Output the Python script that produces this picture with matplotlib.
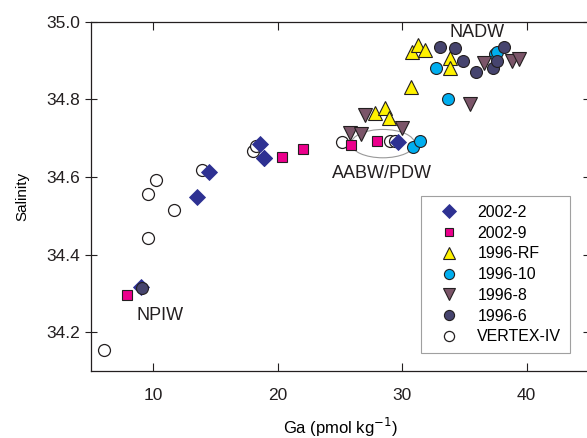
import matplotlib.pyplot as plt
from matplotlib.patches import Ellipse

plt.rcParams['font.family'] = ['Liberation Sans', 'DejaVu Sans']

# Ga (pmol/kg) vs salinity
ga_2002_2 = [9.0, 13.5, 14.5, 18.6, 18.9, 18.9, 29.7]
sal_2002_2 = [34.317, 34.548, 34.613, 34.686, 34.649, 34.649, 34.689]

ga_2002_9 = [7.9, 20.35, 22.05, 25.9, 27.95]
sal_2002_9 = [34.296, 34.651, 34.671, 34.683, 34.692]

ga_1996_rf = [27.8, 28.6, 28.9, 30.7, 30.8, 31.3, 31.8, 33.8, 33.8]
sal_1996_rf = [34.765, 34.778, 34.752, 34.832, 34.921, 34.941, 34.928, 34.907, 34.881]

ga_1996_10 = [30.9, 31.45, 32.7, 33.65, 37.45, 37.6]
sal_1996_10 = [34.677, 34.692, 34.882, 34.802, 34.916, 34.921]

ga_1996_8 = [25.8, 26.7, 27.0, 29.95, 35.45, 36.6, 38.8, 39.35]
sal_1996_8 = [34.713, 34.711, 34.761, 34.727, 34.789, 34.894, 34.898, 34.904]

ga_1996_6 = [9.1, 33.0, 34.25, 34.85, 35.95, 37.3, 37.65, 38.15]
sal_1996_6 = [34.313, 34.936, 34.932, 34.900, 34.870, 34.881, 34.898, 34.935]

ga_vertex = [6.0, 9.6, 9.55, 10.2, 11.65, 13.95, 18.0, 18.25, 25.15, 29.05, 29.4]
sal_vertex = [34.155, 34.442, 34.557, 34.592, 34.516, 34.619, 34.666, 34.679, 34.690, 34.692, 34.692]

fig = plt.figure(figsize=(5.87, 4.38), dpi=100)
ax = fig.add_axes([0.1552, 0.1527, 0.848, 0.7977])

edge = '#231f20'
ax.plot(ga_2002_2, sal_2002_2, 'D', ms=8, mfc='#2e3192', mec='#2e3192', mew=0.6, label='2002-2', zorder=3)
ax.plot(ga_2002_9, sal_2002_9, 's', ms=7, mfc='#ec008c', mec=edge, mew=0.8, label='2002-9', zorder=3)
ax.plot(ga_1996_rf, sal_1996_rf, '^', ms=9.5, mfc='#fff200', mec=edge, mew=0.8, label='1996-RF', zorder=3)
ax.plot(ga_1996_10, sal_1996_10, 'o', ms=8.6, mfc='#00aeef', mec=edge, mew=0.8, label='1996-10', zorder=3)
ax.plot(ga_1996_8, sal_1996_8, 'v', ms=9.5, mfc='#7b5569', mec=edge, mew=0.8, label='1996-8', zorder=3)
ax.plot(ga_1996_6, sal_1996_6, 'o', ms=8.6, mfc='#46446e', mec=edge, mew=0.8, label='1996-6', zorder=3)
ax.plot(ga_vertex, sal_vertex, 'o', ms=8.6, mfc='white', mec=edge, mew=0.9, label='VERTEX-IV', zorder=2)

ax.add_patch(Ellipse((28.45, 34.686), 5.1, 0.073, fill=False, ec='#999999', lw=0.8, zorder=1))

ax.text(36.0, 34.972, 'NADW', fontsize=13, ha='center', va='center', color=edge)
ax.text(28.41, 34.610, 'AABW/PDW', fontsize=13, ha='center', va='center', color=edge)
ax.text(8.67, 34.243, 'NPIW', fontsize=13, ha='left', va='center', color=edge)

ax.set_xlim(5, 45)
ax.set_ylim(34.1, 35.0)
ax.set_xticks([10, 20, 30, 40])
ax.set_yticks([34.2, 34.4, 34.6, 34.8, 35.0])
ax.set_yticklabels(['34.2', '34.4', '34.6', '34.8', '35.0'])
ax.tick_params(axis='x', direction='in', top=True, length=5.5, width=0.8, labelsize=12.5, pad=12, colors=edge)
ax.tick_params(axis='y', direction='inout', right=True, length=8, width=0.8, labelsize=12.5, pad=4, colors=edge)
for s in ax.spines.values():
    s.set_linewidth(0.9)
    s.set_color(edge)

ax.set_xlabel('Ga (pmol kg$^{-1}$)', fontsize=12)
ax.xaxis.set_label_coords(0.5, -0.128)
ax.set_ylabel('Salinity', fontsize=11)
ax.yaxis.set_label_coords(-0.125, 0.5)

leg = ax.legend(loc='upper left', bbox_to_anchor=(0.662, 0.501), fontsize=11.5,
                frameon=True, fancybox=False, edgecolor='#888888', borderpad=0.55,
                labelspacing=0.36, handlelength=2.5, handletextpad=0.5, borderaxespad=0,
                markerscale=0.85)
leg.get_frame().set_linewidth(0.8)

fig.savefig('out.png', dpi=100)
